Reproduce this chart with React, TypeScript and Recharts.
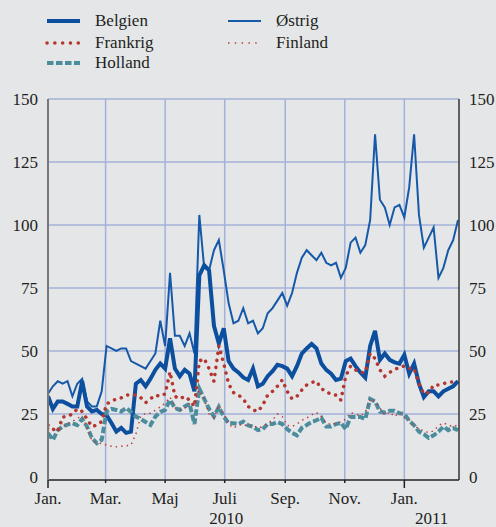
import React from 'react'
import { LineChart, Line, XAxis, YAxis, ReferenceLine } from 'recharts'

// dage siden 1. jan. 2010
const days = [
  0, 5, 10, 15, 20, 25, 30, 35, 40, 45, 50, 55, 60, 65, 70, 75, 80, 85, 90, 95,
  100, 105, 110, 115, 120, 125, 130, 135, 140, 145, 150, 155, 160, 165, 170, 175, 180, 185, 190, 195,
  200, 205, 210, 215, 220, 225, 230, 235, 240, 245, 250, 255, 260, 265, 270, 275, 280, 285, 290, 295,
  300, 305, 310, 315, 320, 325, 330, 335, 340, 345, 350, 355, 360, 365, 370, 375, 380, 385, 390, 395,
  400, 405, 410, 415, 420,
]

const belgien = [
  32, 27, 30, 30, 29, 28, 28, 38, 28, 26, 26.6, 25, 24.5, 21.4, 18, 19.5, 17.5, 18, 37, 38.5,
  36, 39, 42.5, 45, 43, 55, 43, 40, 42.5, 41, 34, 80, 84, 82, 60, 53, 59, 46, 43, 41.5,
  39.5, 38.5, 43, 36, 37, 40, 42, 44.5, 44, 43, 40, 44, 49, 51, 52.8, 51, 45, 42.5, 41, 38.5,
  39, 46, 47, 44, 41.5, 39.4, 52, 58, 46.5, 49, 46.5, 45.5, 45, 48.5, 41, 45, 37, 31.7, 34, 34,
  32, 34, 35, 36, 38,
]

const ostrig = [
  33, 36, 38, 37, 38, 32, 37, 39, 30, 28, 28, 34, 52, 51, 50, 51, 51, 46, 45, 44,
  43, 46, 49, 62, 52, 81, 56, 56, 52, 57, 49, 104, 83, 82, 90, 94, 82, 69, 61, 62,
  67, 61, 62, 57, 59, 65, 67, 70, 73, 68, 73, 81, 87, 90, 88, 86, 89, 85, 84, 85,
  79, 83, 93, 95, 89, 92, 102, 136, 110, 107, 100, 107, 108, 103, 115, 136, 104, 91, 95, 99,
  79, 83, 90, 94, 102,
]

const frankrig = [
  20.6, 19, 18, 23.8, 24, 25, 27, 26, 23, 20, 20.6, 22, 29, 30, 31, 31.4, 32.5, 32.7, 32.5, 31.5,
  29.5, 31, 32.5, 32, 33, 41.7, 32, 31, 32, 30.5, 28, 46, 47, 43, 38, 52, 45, 37, 33.5, 32.5,
  31, 28, 26.6, 26, 28.5, 32.5, 34, 36, 38.5, 34, 31, 32, 34.5, 36.5, 37.5, 38, 35, 34, 32.7, 32.5,
  30.5, 40, 44, 42.5, 41.5, 41.5, 49, 47, 42.5, 40, 41.5, 42.5, 43.7, 44, 43, 43, 37, 33, 33.5, 36.5,
  36.5, 37, 37.7, 37.7, 37.5,
]

const holland = [
  17.4, 14.7, 18.6, 20, 20.8, 21.3, 20.6, 23, 20, 15.4, 13.4, 14.7, 26, 27, 26.6, 26, 27.4, 25.8, 24, 23,
  21.8, 20.6, 24, 25.8, 26.6, 30.6, 27.4, 26.6, 28, 29, 21, 35, 31, 27, 24, 27.8, 24, 21.3, 21.3, 21,
  22, 20.5, 20, 18.6, 19, 21, 21, 21.8, 21, 19, 17.5, 16.5, 19.5, 20.6, 21.8, 22.5, 23.5, 20, 20, 21,
  21.5, 19, 23.8, 23.8, 23.8, 23, 31, 30, 26, 25.5, 26.3, 26.3, 25.3, 25, 22.3, 20.5, 18, 17, 15.5, 16.5,
  18, 20, 18.6, 19.4, 18.6,
]

const finland = [
  19.4, 19, 19, 20, 21, 22, 23.4, 24, 19.5, 14.5, 13.6, 13.2, 12.7, 12.2, 12, 12.2, 12.4, 12.7, 17, 24,
  25.3, 25.3, 26.5, 27.8, 29.3, 31.7, 27.5, 26.6, 27.2, 29, 29.8, 34.5, 31, 25, 23.5, 28.5, 25, 21, 19.4, 20.5,
  21, 20, 20.5, 19.5, 20, 21.3, 22.6, 25, 24, 20.5, 20, 21, 22.5, 23.4, 24.6, 25.6, 23.8, 21.5, 20.8, 21.3,
  21.8, 23, 25.5, 25, 24.3, 25.5, 31, 30, 27.4, 24.6, 25.8, 23.9, 25.5, 23.5, 22.7, 20.3, 19.2, 18.2, 17.6, 18.3,
  20.3, 21.5, 20.6, 20, 20.6,
]

const monthTicks = [0, 59, 120, 181, 243, 304, 365]
const monthLabels = ['Jan.', 'Mar.', 'Maj', 'Juli', 'Sep.', 'Nov.', 'Jan.']
const yearTicks = [182.5, 393]
const yearLabels = ['2010', '2011']
const yTicks = [0, 25, 50, 75, 100, 125, 150]
const gridY = [25, 50, 75, 100, 125, 150]

const data = days.map((d, i) => ({
  d,
  belgien: belgien[i],
  ostrig: ostrig[i],
  frankrig: frankrig[i],
  holland: holland[i],
  finland: finland[i],
}))

const FONT = "'Liberation Serif', 'Times New Roman', serif"
const TXT = '#231f20'
const BG = '#e5e6e8'
const GRID = '#a3b1da'

const C_BEL = '#0b4f9e'
const C_OST = '#1559a8'
const C_FRA = '#b3362f'
const C_FIN = '#c0403a'
const C_HOL = '#4b8d9d'

function MonthTick({ x, y, payload }: any) {
  const i = monthTicks.indexOf(payload.value)
  const long = payload.value === 0 || payload.value === 365
  return (
    <g>
      <line x1={x} x2={x} y1={y} y2={y + (long ? 8 : 3)} stroke="#222" strokeWidth={1.5} />
      <text x={x} y={y + 24} textAnchor="middle" fill={TXT} fontSize={17} fontFamily={FONT}>
        {monthLabels[i]}
      </text>
    </g>
  )
}

function YearTick({ x, y, payload }: any) {
  const i = yearTicks.indexOf(payload.value)
  return (
    <text x={x} y={y + 14} textAnchor="middle" fill={TXT} fontSize={17} fontFamily={FONT}>
      {yearLabels[i]}
    </text>
  )
}

function LegendItem({ left, top, label, stroke, width, dash, cap }: any) {
  return (
    <div style={{ position: 'absolute', left, top, height: 20, display: 'flex', alignItems: 'center' }}>
      <svg width={50} height={20}>
        <line x1={2} x2={35} y1={10} y2={10} stroke={stroke} strokeWidth={width}
          strokeDasharray={dash} strokeLinecap={cap || 'butt'} />
      </svg>
      <span style={{ fontSize: 17, fontFamily: FONT, color: TXT, lineHeight: '20px' }}>{label}</span>
    </div>
  )
}

export default function App() {
  return (
    <div style={{ position: 'absolute', left: 0, top: 0, width: 496, height: 527, background: BG }}>
      <LegendItem left={45} top={11} label="Belgien" stroke={C_BEL} width={4} />
      <LegendItem left={45} top={33} label="Frankrig" stroke={C_FRA} width={3.5} dash="0.1 7.7" cap="round" />
      <LegendItem left={45} top={53} label="Holland" stroke={C_HOL} width={4} dash="6.5 2.5" />
      <LegendItem left={226} top={11} label="Østrig" stroke={C_OST} width={2} />
      <LegendItem left={226} top={33} label="Finland" stroke={C_FIN} width={1.5} dash="1.5 5.3" />

      <div style={{ position: 'absolute', left: 0, top: 0 }}>
        <LineChart width={496} height={527} data={data}
          margin={{ top: 99, right: 0, left: 0, bottom: 0 }}>
          <XAxis xAxisId="m" dataKey="d" type="number" domain={[0, 421]} ticks={monthTicks}
            allowDataOverflow height={30} tickSize={0} tickMargin={0}
            axisLine={{ stroke: '#222', strokeWidth: 1.5 }} tickLine={false} tick={<MonthTick />} />
          <XAxis xAxisId="y" dataKey="d" type="number" domain={[0, 421]} ticks={yearTicks}
            allowDataOverflow height={17} tickSize={0} tickMargin={0}
            axisLine={false} tickLine={false} tick={<YearTick />} />
          <YAxis yAxisId="l" orientation="left" width={48} domain={[-1.2, 150]} ticks={yTicks}
            allowDataOverflow axisLine={{ stroke: '#777', strokeWidth: 2 }} tickLine={false}
            tickSize={6} tickMargin={4} tick={{ fill: TXT, fontSize: 17, fontFamily: FONT }} />
          <YAxis yAxisId="r" orientation="right" width={37} domain={[-1.2, 150]} ticks={yTicks}
            allowDataOverflow axisLine={{ stroke: '#333', strokeWidth: 1.5 }} tickLine={false}
            tickSize={6} tickMargin={4} tick={{ fill: TXT, fontSize: 17, fontFamily: FONT }} />

          {gridY.map(v => (
            <ReferenceLine key={'gy' + v} xAxisId="m" yAxisId="l" y={v} stroke={GRID} strokeWidth={1.5} />
          ))}
          {monthTicks.slice(1).map(v => (
            <ReferenceLine key={'gx' + v} xAxisId="m" yAxisId="l" x={v} stroke={GRID} strokeWidth={1.5} />
          ))}

          <Line xAxisId="m" yAxisId="l" type="linear" dataKey="ostrig" stroke={C_OST} strokeWidth={2}
            dot={false} activeDot={false} isAnimationActive={false} />
          <Line xAxisId="m" yAxisId="l" type="linear" dataKey="belgien" stroke={C_BEL} strokeWidth={4}
            dot={false} activeDot={false} isAnimationActive={false} />
          <Line xAxisId="m" yAxisId="l" type="linear" dataKey="holland" stroke={C_HOL} strokeWidth={4}
            strokeDasharray="6.5 2.5" dot={false} activeDot={false} isAnimationActive={false} />
          <Line xAxisId="m" yAxisId="l" type="linear" dataKey="finland" stroke={C_FIN} strokeWidth={1.5}
            strokeDasharray="1.5 4" dot={false} activeDot={false} isAnimationActive={false} />
          <Line xAxisId="m" yAxisId="l" type="linear" dataKey="frankrig" stroke={C_FRA} strokeWidth={3.5}
            strokeDasharray="0.1 7" strokeLinecap="round" dot={false} activeDot={false} isAnimationActive={false} />
        </LineChart>
      </div>
    </div>
  )
}
